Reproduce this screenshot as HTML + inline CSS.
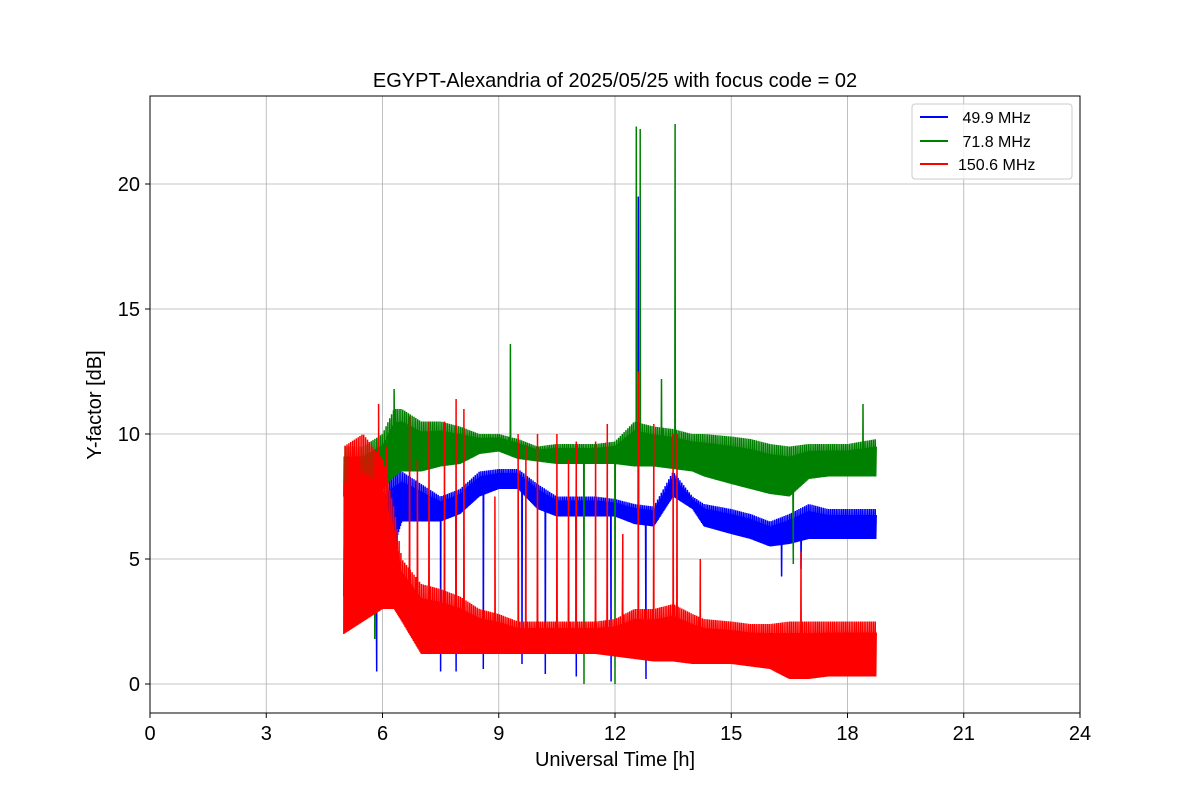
<!DOCTYPE html>
<html><head><meta charset="utf-8">
<style>
body{margin:0;background:#fff;}
svg{font-family:"Liberation Sans","DejaVu Sans",sans-serif;}
</style></head>
<body>
<svg id="chart" width="1200" height="800">
<rect width="1200" height="800" fill="#fff"/>
<g id="grid"></g>
<g id="series"></g>
<rect x="150" y="96" width="930" height="617" fill="none" stroke="#000" stroke-width="1"/>
<g id="ticks"></g>
<text x="615" y="87" font-size="20" text-anchor="middle">EGYPT-Alexandria of 2025/05/25 with focus code = 02</text>
<text x="615" y="766" font-size="20" text-anchor="middle">Universal Time [h]</text>
<text x="101" y="405" font-size="20" text-anchor="middle" transform="rotate(-90 101 405)">Y-factor [dB]</text>
<g>
<rect x="912" y="104" width="160" height="75" rx="3" fill="#fff" fill-opacity="0.8" stroke="#ccc"/>
<g><line x1="920" y1="117" x2="948" y2="117" stroke="blue" stroke-width="2"/><text x="958" y="123" font-size="16">&#160;49.9 MHz</text></g>
<g><line x1="920" y1="141" x2="948" y2="141" stroke="green" stroke-width="2"/><text x="958" y="147" font-size="16">&#160;71.8 MHz</text></g>
<g><line x1="920" y1="164" x2="948" y2="164" stroke="red" stroke-width="2"/><text x="958" y="170" font-size="16">150.6 MHz</text></g>
</g>
</svg>
<script>
const xTicks=[0,3,6,9,12,15,18,21,24];
const yTicks=[0,5,10,15,20];
// envelope anchors (time h)
const times=[5.0,5.5,6.0,6.3,6.5,7.0,7.5,8.0,8.5,9.0,9.5,10.0,10.5,11.0,11.5,12.0,12.5,13.0,13.5,14.0,14.3,15.0,15.5,16.0,16.5,17.0,17.5,18.0,18.75];
const blueLow =[3.5,3.0,3.5,5.5,6.5,6.5,6.5,6.8,7.5,7.8,7.8,7.0,6.7,6.7,6.7,6.7,6.4,6.3,7.5,7.0,6.3,6.0,5.8,5.5,5.6,5.8,5.8,5.8,5.8];
const blueHigh=[6.0,7.5,8.5,8.5,8.5,8.0,7.5,7.8,8.5,8.6,8.6,8.0,7.5,7.5,7.5,7.4,7.2,7.1,8.5,7.5,7.2,7.0,6.8,6.5,6.8,7.2,7.0,7.0,7.0];
const greenLow =[7.5,7.5,7.8,8.3,8.5,8.5,8.7,8.8,9.2,9.3,9.0,8.9,8.8,8.8,8.8,8.8,8.7,8.7,8.6,8.5,8.3,8.0,7.8,7.6,7.5,8.2,8.3,8.3,8.3];
const greenHigh=[9.5,9.5,10.0,11.0,11.0,10.5,10.5,10.3,10.0,10.0,9.8,9.5,9.6,9.6,9.6,9.7,10.5,10.3,10.2,10.0,10.0,9.9,9.8,9.6,9.5,9.6,9.6,9.6,9.8];
const redLow =[2.0,2.5,3.0,3.0,2.5,1.2,1.2,1.2,1.2,1.2,1.2,1.2,1.2,1.2,1.2,1.1,1.0,0.9,0.9,0.8,0.8,0.8,0.7,0.6,0.2,0.2,0.3,0.3,0.3];
const redHigh=[9.5,10.0,9.0,7.0,5.0,4.0,3.8,3.5,3.0,2.8,2.5,2.5,2.5,2.5,2.5,2.6,3.0,3.0,3.2,2.8,2.6,2.5,2.4,2.4,2.5,2.5,2.5,2.5,2.5];
// spikes: time, peak value
const redSpikeT=[5.9,6.7,7.2,7.6,7.9,8.1,9.5,10.0,10.5,11.0,11.5,11.8,12.6,13.0,13.5,13.6,6.1,6.9,8.9,9.7,10.8,12.2,14.2,16.8];
const redSpikeV=[11.2,10.7,10.5,10.5,11.4,11.0,10.0,10.0,10.0,9.7,9.7,10.4,12.5,10.4,10.0,10.0,9.5,9.0,7.5,9.5,9.0,6.0,5.0,5.3];
const greenSpikeT=[9.3,12.55,12.65,13.55,13.2,18.4,6.3,11.2,12.0,5.8,16.6];
const greenSpikeV=[13.6,22.3,22.2,22.4,12.2,11.2,11.8,0.0,0.0,1.8,4.8];
const blueSpikeT=[12.6,5.85,7.5,7.9,9.6,10.2,11.0,11.9,12.8,16.3,16.8,8.6];
const blueSpikeV=[19.5,0.5,0.5,0.5,0.8,0.4,0.3,0.1,0.2,4.3,4.6,0.6];

const NS='http://www.w3.org/2000/svg';
const X0=150,X1=1080,Y0=684,PPU=25;
const sx=t=>X0+t/24*(X1-X0);
const sy=v=>Y0-v*PPU;
function mk(tag,attrs,parent){const e=document.createElementNS(NS,tag);for(const k in attrs)e.setAttribute(k,attrs[k]);parent.appendChild(e);return e;}
const grid=document.getElementById('grid'),ticks=document.getElementById('ticks'),ser=document.getElementById('series');
xTicks.forEach(t=>{
  const l=mk('line',{x1:sx(t),x2:sx(t),y1:96,y2:713,stroke:'#b0b0b0','stroke-width':0.8},grid);
  
  
  mk('line',{x1:sx(t),x2:sx(t),y1:713,y2:718,stroke:'#000'},ticks);
  const tx=mk('text',{x:sx(t),y:740,'font-size':20,'text-anchor':'middle'},ticks);tx.textContent=t;
  
  
});
yTicks.forEach(v=>{
  const l=mk('line',{x1:150,x2:1080,y1:sy(v),y2:sy(v),stroke:'#b0b0b0','stroke-width':0.8},grid);
  
  
  mk('line',{x1:145,x2:150,y1:sy(v),y2:sy(v),stroke:'#000'},ticks);
  const tx=mk('text',{x:140,y:sy(v)+7,'font-size':20,'text-anchor':'end'},ticks);tx.textContent=v;
  
  
});
function interp(arr,t){
  for(let i=0;i<times.length-1;i++){if(t<=times[i+1]){const f=(t-times[i])/(times[i+1]-times[i]);return arr[i]+f*(arr[i+1]-arr[i]);}}
  return arr[arr.length-1];
}
function drawSeries(low,high,spT,spV,color,name){
  const pts=[];const step=0.012;let k=0;
  const spikes=spT.map((t,i)=>[t,spV[i]]);
  for(let t=times[0];t<=times[times.length-1];t+=step,k++){
    let v=(k%2===0)?interp(low,t):interp(high,t);
    if(k%4===1) v=(interp(low,t)+interp(high,t))/2+ (interp(high,t)-interp(low,t))*0.3;
    pts.push(sx(t).toFixed(1)+','+sy(v).toFixed(1));
    spikes.forEach(s=>{if(s[0]>=t&&s[0]<t+step){pts.push(sx(s[0]).toFixed(1)+','+sy(s[1]).toFixed(1));}});
  }
  const p=mk('polyline',{points:pts.join(' '),fill:'none',stroke:color,'stroke-width':1.5,'stroke-linejoin':'miter'},ser);
  
  
}
drawSeries(blueLow,blueHigh,blueSpikeT,blueSpikeV,'blue','series-49.9-mhz');
drawSeries(greenLow,greenHigh,greenSpikeT,greenSpikeV,'green','series-71.8-mhz');
drawSeries(redLow,redHigh,redSpikeT,redSpikeV,'red','series-150.6-mhz');
</script>
</body></html>
